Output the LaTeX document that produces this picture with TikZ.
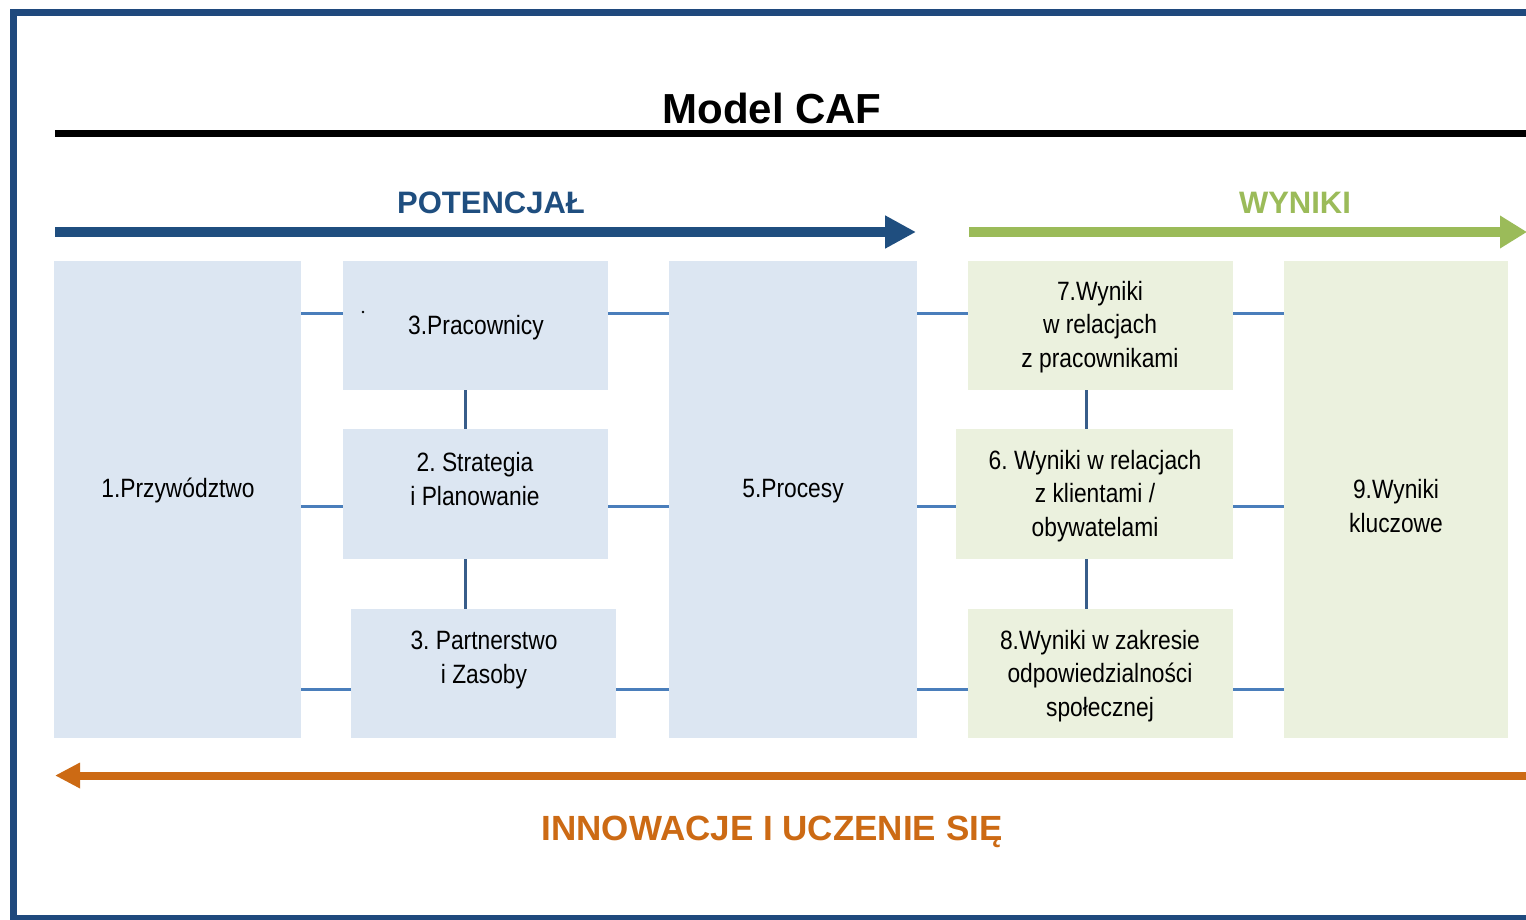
\documentclass[tikz,border=0pt]{standalone}
\usepackage{fontspec}
\setmainfont{Liberation Sans}
\newfontfamily\narrowfont[FakeStretch=0.86]{Liberation Sans}
\usetikzlibrary{arrows.meta}
\definecolor{frameblue}{HTML}{1F497D}
\definecolor{arrowblue}{HTML}{1F4E7F}
\definecolor{resgreen}{HTML}{9BBB59}
\definecolor{innorange}{HTML}{CC6A14}
\definecolor{boxblue}{HTML}{DCE6F2}
\definecolor{boxgreen}{HTML}{EBF1DE}
\definecolor{connh}{HTML}{4A7EBB}
\definecolor{connv}{HTML}{385D8A}
\frenchspacing
\begin{document}
\begin{tikzpicture}[x=1pt,y=-1pt,
  bbox/.style={fill=boxblue, draw=none, inner sep=0pt},
  gbox/.style={fill=boxgreen, draw=none, inner sep=0pt},
  txt/.style={align=center, inner sep=0pt, font=\narrowfont\fontsize{26.5}{33.5}\selectfont},
  connh/.style={draw=connh, line width=3pt},
  connv/.style={draw=connv, line width=3pt},
  head/.style={font=\bfseries\fontsize{#1}{#1}\selectfont, inner sep=0pt, anchor=base}
]
\useasboundingbox (0,0) rectangle (1526,919);
\clip (0,0) rectangle (1526,919);
\fill[white] (0,0) rectangle (1526,919);

% frame
\coordinate (f1) at (1530,12.8);
\coordinate (f2) at (13,12.8);
\coordinate (f3) at (13,918);
\coordinate (f4) at (1530,918);
\draw[frameblue, line width=7pt, line join=miter] (f1) -- (f2) -- (f3) -- (f4);

% title
\node[head=42] (title) at (772,123) {Model CAF};
\coordinate (tl1) at (55,133.5);
\coordinate (tl2) at (1530,133.5);
\draw[black, line width=7pt] (tl1) -- (tl2);

% headers and arrows
\node[head=31, text=arrowblue] (pot) at (491,213) {POTENCJAŁ};
\node[head=31, text=resgreen] (wyn) at (1295,213) {WYNIKI};
\coordinate (pa) at (55,232);
\coordinate (pb) at (916,232);
\draw[arrowblue, line width=10pt, -{Triangle[length=31pt,width=31pt]}] (pa) -- (pb);
\coordinate (wa) at (969,232);
\coordinate (wb) at (1527,232);
\draw[resgreen, line width=10pt, -{Triangle[length=27pt,width=31pt]}] (wa) -- (wb);

\coordinate (ia) at (1530,775.5);
\coordinate (ib) at (55,775.5);
\draw[innorange, line width=8pt, -{Triangle[length=25pt,width=24pt]}] (ia) -- (ib);
\node[head=35, text=innorange] (inn) at (772,840) {INNOWACJE I UCZENIE SIĘ};

% boxes
\node[bbox, minimum width=247pt, minimum height=477pt] (b1) at (177.5,499.5) {};
\node[bbox, minimum width=265pt, minimum height=129pt] (b3) at (475.5,325.5) {};
\node[bbox, minimum width=265pt, minimum height=130pt] (b2) at (475.5,494) {};
\node[bbox, minimum width=265pt, minimum height=129pt] (b4) at (483.5,673.5) {};
\node[bbox, minimum width=248pt, minimum height=477pt] (b5) at (793,499.5) {};
\node[gbox, minimum width=265pt, minimum height=129pt] (g7) at (1100.5,325.5) {};
\node[gbox, minimum width=277pt, minimum height=130pt] (g6) at (1094.5,494) {};
\node[gbox, minimum width=265pt, minimum height=129pt] (g8) at (1100.5,673.5) {};
\node[gbox, minimum width=224pt, minimum height=477pt] (g9) at (1396,499.5) {};

% texts
\node[txt] (t1) at (178,490) {1.Przywództwo};
\node[txt] (t3) at (476,328) {3.Pracownicy};
\node[txt] (t2) at (475,479) {2. Strategia\\i Planowanie};
\node[txt] (t4) at (484,660) {3. Partnerstwo\\i Zasoby};
\node[txt] (t5) at (793,491) {5.Procesy};
\node[txt] (t7) at (1100,327) {7.Wyniki\\w relacjach\\z pracownikami};
\node[txt] (t6) at (1095,496) {6. Wyniki w relacjach\\z klientami /\\obywatelami};
\node[txt] (t8) at (1100,676) {8.Wyniki w zakresie\\odpowiedzialności\\społecznej};
\node[txt] (t9) at (1396,506) {9.Wyniki\\kluczowe};
\fill[black] (363,312) circle (1.4pt);

% connectors
\coordinate (r1) at (0,313);
\coordinate (r2) at (0,506);
\coordinate (r3) at (0,689);
\coordinate (v1) at (465,0);
\coordinate (v2) at (1086,0);
\draw[connh] (b1.east |- r1) -- (b3.west |- r1);
\draw[connh] (b3.east |- r1) -- (b5.west |- r1);
\draw[connh] (b5.east |- r1) -- (g7.west |- r1);
\draw[connh] (g7.east |- r1) -- (g9.west |- r1);
\draw[connh] (b1.east |- r2) -- (b2.west |- r2);
\draw[connh] (b2.east |- r2) -- (b5.west |- r2);
\draw[connh] (b5.east |- r2) -- (g6.west |- r2);
\draw[connh] (g6.east |- r2) -- (g9.west |- r2);
\draw[connh] (b1.east |- r3) -- (b4.west |- r3);
\draw[connh] (b4.east |- r3) -- (b5.west |- r3);
\draw[connh] (b5.east |- r3) -- (g8.west |- r3);
\draw[connh] (g8.east |- r3) -- (g9.west |- r3);
\draw[connv] (b3.south -| v1) -- (b2.north -| v1);
\draw[connv] (b2.south -| v1) -- (b4.north -| v1);
\draw[connv] (g7.south -| v2) -- (g6.north -| v2);
\draw[connv] (g6.south -| v2) -- (g8.north -| v2);
\end{tikzpicture}
\end{document}
